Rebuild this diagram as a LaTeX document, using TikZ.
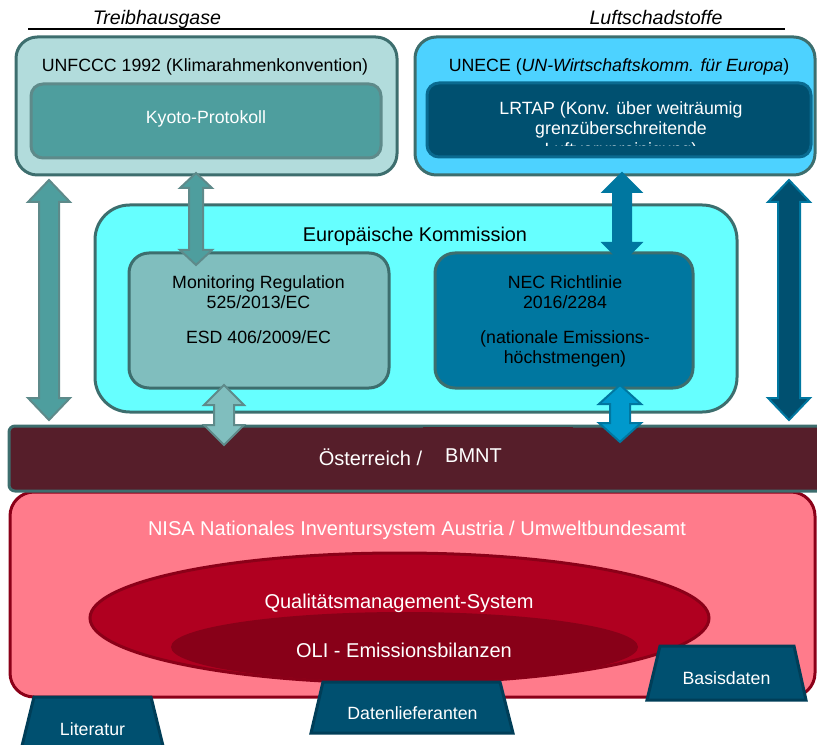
\documentclass[tikz,border=0pt]{standalone}
\usepackage{fontspec}
\setmainfont{Liberation Sans}
\usetikzlibrary{shapes.geometric}
\definecolor{tealb}{RGB}{61,110,110}
\definecolor{unfill}{RGB}{178,220,220}
\definecolor{kyfill}{RGB}{78,158,158}
\definecolor{kyline}{RGB}{94,138,138}
\definecolor{uneceFill}{RGB}{77,210,255}
\definecolor{lrfill}{RGB}{0,80,112}
\definecolor{lrline}{RGB}{10,106,144}
\definecolor{ekfill}{RGB}{102,255,255}
\definecolor{mofill}{RGB}{128,190,190}
\definecolor{necfill}{RGB}{0,119,160}
\definecolor{necarr}{RGB}{0,153,204}
\definecolor{atfill}{RGB}{86,30,42}
\definecolor{nisafill}{RGB}{255,123,139}
\definecolor{nisaline}{RGB}{139,0,24}
\definecolor{qmfill}{RGB}{176,0,32}
\definecolor{olifill}{RGB}{136,0,24}
\definecolor{trapline}{RGB}{0,62,88}
\newcommand\fmain{\fontsize{13.3}{16}\selectfont}
\newcommand\fbig{\fontsize{15}{18}\selectfont}
\newcommand\fhead{\fontsize{14.7}{18}\selectfont\itshape}
% vertical double block arrow: centre x, top tip y, bottom tip y, shaft half width, head half width, head length, style
\newcommand\dblarr[7]{%
  \draw[#7] (#1,#2) -- ({#1+#5},{#2+#6}) -- ({#1+#4},{#2+#6}) -- ({#1+#4},{#3-#6})
    -- ({#1+#5},{#3-#6}) -- (#1,#3) -- ({#1-#5},{#3-#6}) -- ({#1-#4},{#3-#6})
    -- ({#1-#4},{#2+#6}) -- ({#1-#5},{#2+#6}) -- cycle;}
\begin{document}
\begin{tikzpicture}[x=0.75pt,y=-0.75pt,
  box/.style={draw=tealb, line width=2.25pt, rounded corners=#1, inner sep=0pt},
  box/.default=16pt,
  txt/.style={anchor=base, inner sep=0pt, font=\fmain},
  wtxt/.style={txt, text=white},
  btxt/.style={anchor=base, inner sep=0pt, font=\fbig, text=white},
  trapd/.style={fill=lrfill, draw=trapline, line width=2.25pt, line join=miter},
  ell/.style={ellipse, inner sep=0pt},
  arrline/.style={line width=1.5pt, line join=miter}
]
\useasboundingbox (0,0) rectangle (817,745);
\clip (0,0) rectangle (817,745);

% header
\coordinate (hl) at (28,29);
\coordinate (hr) at (785,29);
\draw[line width=1.2pt] (hl) -- (hr);
\node[anchor=base, inner sep=0pt, font=\fhead] (thg) at (157,25) {Treibhausgase};
\node[anchor=base, inner sep=0pt, font=\fhead] (lsf) at (656,25) {Luftschadstoffe};

% UNFCCC
\node[box=16pt, fill=unfill, minimum width=285.75pt, minimum height=103.5pt] (unfccc) at (206.5,106) {};
\node[txt] (unfccct) at (205,72) {UNFCCC 1992 (Klimarahmenkonvention)};
\node[box=9pt, draw=kyline, fill=kyfill, minimum width=262.5pt, minimum height=55.5pt] (kyoto) at (206,121) {};
\node[wtxt] (kyotot) at (206,124) {Kyoto-Protokoll};

% UNECE
\node[box=16pt, fill=uneceFill, minimum width=300pt, minimum height=103.5pt] (unece) at (615,106) {};
\node[txt] (unecet) at (619,72) {UNECE (\textit{UN-Wirtschaftskomm. für Europa})};
\node[box=9pt, draw=lrline, fill=lrfill, minimum width=288pt, minimum height=55.5pt] (lrtap) at (619,120) {};
\begin{scope}
\clip (427,83) rectangle (811,145.5);
\node[wtxt] (lrtap1) at (621,115) {LRTAP (Konv. über weiträumig};
\node[wtxt] (lrtap2) at (621,135) {grenzüberschreitende};
\node[wtxt] (lrtap3) at (621,155.5) {Luftverunreinigung)};
\end{scope}

% Europaeische Kommission
\node[box=26pt, fill=ekfill, minimum width=481.5pt, minimum height=155.25pt] (ek) at (416,308.5) {};
\node[anchor=base, inner sep=0pt, font=\fontsize{14.9}{18}\selectfont] (ekt) at (415,242) {Europäische Kommission};
\node[box=15pt, fill=mofill, minimum width=195pt, minimum height=101.25pt] (mon) at (259,320.5) {};
\node[txt] (mon1) at (258.5,288) {Monitoring Regulation};
\node[txt] (mon2) at (258.5,308) {525/2013/EC};
\node[txt] (mon3) at (258.5,343) {ESD 406/2009/EC};
\node[box=15pt, fill=necfill, minimum width=193.5pt, minimum height=101.25pt] (nec) at (564,320.5) {};
\node[txt] (nec1) at (565,288) {NEC Richtlinie};
\node[txt] (nec2) at (565,308) {2016/2284};
\node[txt] (nec3) at (565,343) {(nationale Emissions-};
\node[txt] (nec4) at (565,363) {höchstmengen)};

% NISA
\node[draw=nisaline, fill=nisafill, line width=2.25pt, rounded corners=18pt, minimum width=603.75pt, minimum height=153.75pt, inner sep=0pt] (nisa) at (412.5,594.5) {};
\node[btxt] (nisat) at (417,535) {NISA Nationales Inventursystem Austria / Umweltbundesamt};
\node[ell, draw=nisaline, line width=2.25pt, fill=qmfill, minimum width=464.25pt, minimum height=97.5pt] (qm) at (399.5,618) {};
\node[ell, fill=olifill, minimum width=350.25pt, minimum height=52.5pt] (oli) at (404.5,647) {};
\node[btxt] (qmt) at (399,608) {Qualitätsmanagement-System};
\node[btxt] (olit) at (404,657) {OLI - Emissionsbilanzen};

% Oesterreich
\node[box=4.5pt, fill=atfill, minimum width=615.75pt, minimum height=48.75pt] (at) at (419.5,458.5) {};
\fill[atfill] (423,427) rectangle (573,433);
\node[btxt] (att) at (370.5,465) {Österreich /};
\node[btxt] (bmnt) at (473.5,462) {BMNT};

% data sources
\draw[trapd] (34,697) -- (151,697) -- (164,750) -- (21,750) -- cycle;
\node[anchor=base, inner sep=0pt, font=\fmain, text=white] (litt) at (92.5,735) {Literatur};
\draw[trapd] (323,682) -- (500,682) -- (513,733) -- (311,733) -- cycle;
\node[anchor=base, inner sep=0pt, font=\fmain, text=white] (datt) at (412.5,719) {Datenlieferanten};
\draw[trapd] (660,646) -- (794,646) -- (806,700) -- (647,700) -- cycle;
\node[anchor=base, inner sep=0pt, font=\fmain, text=white] (bast) at (726.5,684) {Basisdaten};

% block arrows
\dblarr{49}{180}{420}{10}{21}{22}{arrline, fill=kyfill, draw=kyline}
\dblarr{196}{173}{265}{7}{16}{15}{arrline, fill=kyfill, draw=kyline}
\dblarr{224}{385}{445}{10}{20}{20}{arrline, fill=mofill, draw=kyline}
\dblarr{622}{173}{262}{9}{19}{19}{arrline, fill=necfill, draw=necfill}
\dblarr{620}{385}{442}{10}{21}{19}{arrline, fill=necarr, draw=necfill}
\dblarr{789}{180}{420}{11}{21}{22}{arrline, fill=lrfill, draw=necfill}
\end{tikzpicture}
\end{document}
